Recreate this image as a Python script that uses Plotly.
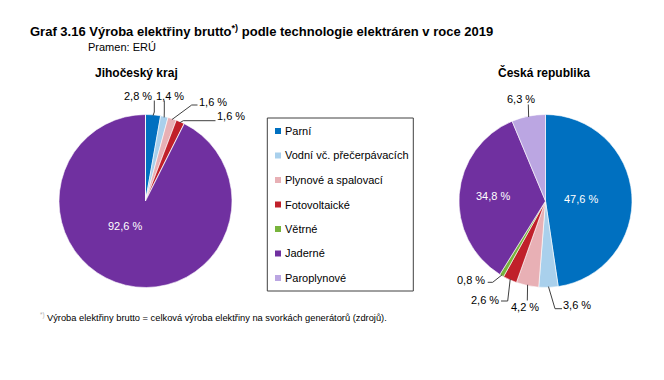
import math
import plotly.graph_objects as go

W, H = 664, 380
OFF = 8  # page body margin compensation

categories = ["Parní", "Vodní vč. přečerpávacích", "Plynové a spalovací",
              "Fotovoltaické", "Větrné", "Jaderné", "Paroplynové"]
jihocesky = [2.8, 1.4, 1.6, 1.6, 0.0, 92.6, 0.0]
cr = [47.6, 3.6, 4.2, 2.6, 0.8, 34.8, 6.3]
colors = ["#0070C0", "#A9D0EC", "#E8B0B5", "#C0202A", "#78B43C", "#7030A0", "#BBA6E2"]

FONT = "Liberation Sans, Arial, sans-serif"

def px(x, y):
    return (x - OFF) / W, 1 - (y - OFF) / H

# pie geometry (pixels)
R = 86.5
pies = [
    dict(values=jihocesky, cx=145.5, cy=201.0, title="Jihočeský kraj", tx=136),
    dict(values=cr, cx=545.5, cy=201.0, title="Česká republika", tx=544),
]

fig = go.Figure()
for p in pies:
    x0, y1 = px(p["cx"] - R, p["cy"] - R)
    x1, y0 = px(p["cx"] + R, p["cy"] + R)
    fig.add_trace(go.Pie(
        labels=categories, values=p["values"], sort=False, direction="clockwise",
        rotation=0, textinfo="none", showlegend=False,
        marker=dict(colors=colors, line=dict(color="white", width=0.6)),
        domain=dict(x=[x0, x1], y=[y0, y1]),
    ))

def edge_point(p, idx, rf=1.0):
    vals = p["values"]
    tot = sum(vals)
    before = sum(vals[:idx])
    mid = (before + vals[idx] / 2) / tot * 2 * math.pi
    return p["cx"] + R * rf * math.sin(mid), p["cy"] - R * rf * math.cos(mid)

def fmt(v):
    return f"{v:.1f}".replace(".", ",") + " %"

annotations = []
shapes = []

def text(x, y, s, size=11, color="#000000", bold=False, xanchor="center"):
    xx, yy = px(x, y)
    annotations.append(dict(
        x=xx, y=yy, xref="paper", yref="paper", text=(f"<b>{s}</b>" if bold else s),
        showarrow=False, xanchor=xanchor, yanchor="middle", borderpad=0, borderwidth=0,
        font=dict(family=FONT, size=size, color=color),
    ))

def path(points, color="#404040"):
    d = ""
    for i, (x, y) in enumerate(points):
        xx, yy = px(x, y)
        d += ("M" if i == 0 else "L") + f"{xx},{yy} "
    shapes.append(dict(type="path", path=d, xref="paper", yref="paper",
                       line=dict(color=color, width=1)))

# outside labels: (pie, slice index, text center, leader elbow points)
outside = [
    (0, 0, (138, 96), [(154.3, 100.5), (154.3, 112)]),
    (0, 1, (169.7, 96), [(164.3, 100.5), (164.3, 112)]),
    (0, 2, (213, 102), [(197.5, 105), (191.7, 105)]),
    (0, 3, (230.5, 116.5), [(215.5, 120.7), (183.3, 120.7)]),
    (1, 6, (521, 98.5), [(528.3, 104.5)]),
    (1, 1, (577, 304.5), [(562, 308.7), (555, 308.7)]),
    (1, 2, (524.7, 306.5), [(527.3, 300.5)]),
    (1, 3, (485.5, 300), [(501, 301), (507.7, 301)]),
    (1, 4, (471, 280), [(487.7, 282.3), (492.7, 282.3)]),
]
for pi, idx, (tx, ty), elbows in outside:
    p = pies[pi]
    text(tx, ty, fmt(p["values"][idx]), size=11)
    ex, ey = edge_point(p, idx, 0.99)
    path(elbows + [(ex, ey)])

# inside labels
inside = [(0, 5, (125, 226)), (1, 0, (581, 199)), (1, 5, (493, 196))]
for pi, idx, (tx, ty) in inside:
    text(tx, ty, fmt(pies[pi]["values"][idx]), size=11, color="white")

# titles
text(30, 31, "Graf 3.16 Výroba elektřiny brutto<sup>*)</sup> podle technologie elektráren v roce 2019",
     size=13, bold=True, xanchor="left")
text(88, 47, "Pramen: ERÚ", size=11, xanchor="left")
for p in pies:
    text(p["tx"], 73, p["title"], size=12, bold=True)

# legend (custom box)
lx0, ly0, lx1, ly1 = 267.3, 118, 413.3, 291
a0, b1 = px(lx0, ly0)
a1, b0 = px(lx1, ly1)
shapes.append(dict(type="rect", xref="paper", yref="paper", x0=a0, x1=a1, y0=b0, y1=b1,
                   line=dict(color="#404040", width=1), fillcolor="white"))
for i, (cat, col) in enumerate(zip(categories, colors)):
    yy = 131 + i * 24.5
    s0x, s0y = px(275, yy - 3)
    s1x, s1y = px(281, yy + 3)
    shapes.append(dict(type="rect", xref="paper", yref="paper", x0=s0x, x1=s1x,
                       y0=s1y, y1=s0y, line=dict(width=0), fillcolor=col))
    text(285, yy, cat, size=11, xanchor="left")

# footnote
text(40, 315, "<sup>*)</sup>", size=9, color="#B0B0B0", xanchor="left")
text(47, 318, "Výroba elektřiny brutto = celková výroba elektřiny na svorkách generátorů (zdrojů).",
     size=9.3, xanchor="left")

fig.update_layout(
    width=W, height=H, margin=dict(l=0, r=0, t=0, b=0),
    paper_bgcolor="white", plot_bgcolor="white",
    annotations=annotations, shapes=shapes,
    font=dict(family=FONT),
)
fig.write_html("out.html")
